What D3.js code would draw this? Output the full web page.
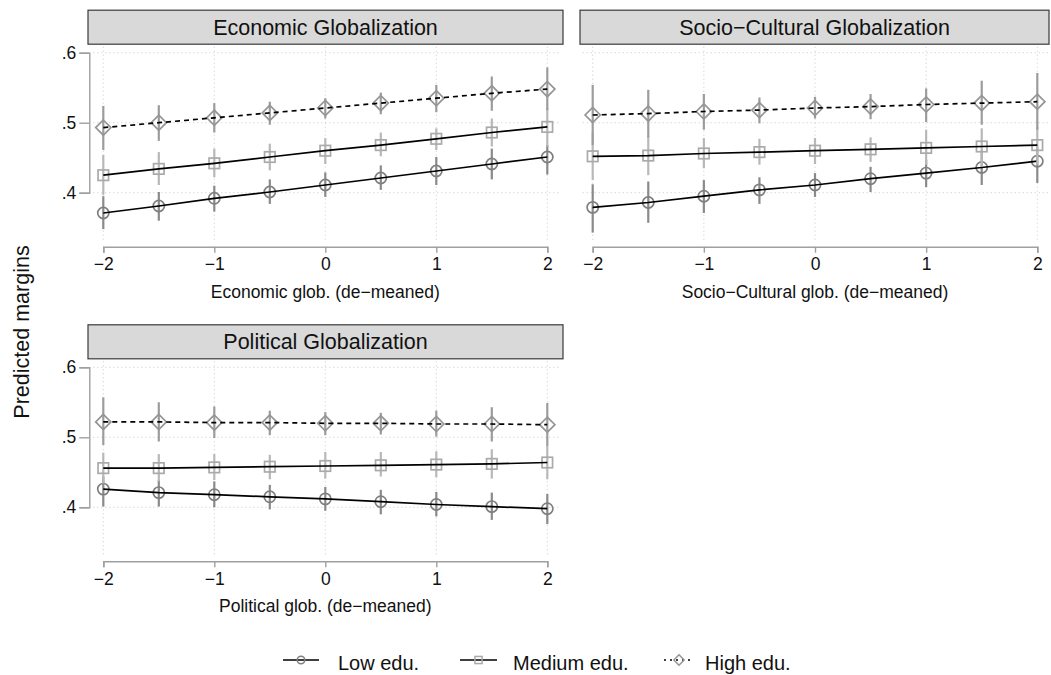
<!DOCTYPE html>
<html>
<head>
<meta charset="utf-8">
<script src="https://cdn.jsdelivr.net/npm/d3@7"></script>
<style>
  html, body { margin: 0; padding: 0; background: #fff; }
  svg { display: block; font-family: "Liberation Sans", Arial, Helvetica, sans-serif; }
</style>
</head>
<body>
<svg id="chart" width="1051" height="675"></svg>
<script>
// Evaluation points of the de-meaned globalization index
const xValues = [-2, -1.5, -1, -0.5, 0, 0.5, 1, 1.5, 2];
const xTicks = [-2, -1, 0, 1, 2];
const yTicks = [0.4, 0.5, 0.6];

const eduLevels = ["Low edu.", "Medium edu.", "High edu."];
const panelTitles = ["Economic Globalization", "Socio\u2212Cultural Globalization", "Political Globalization"];
const xTitles = ["Economic glob. (de\u2212meaned)", "Socio\u2212Cultural glob. (de\u2212meaned)", "Political glob. (de\u2212meaned)"];

// Economic globalization: margins and 95% CI bounds
const econLow    = [0.371, 0.381, 0.392, 0.401, 0.411, 0.421, 0.431, 0.441, 0.451];
const econLowLo  = [0.348, 0.360, 0.373, 0.384, 0.394, 0.404, 0.411, 0.419, 0.426];
const econLowHi  = [0.395, 0.401, 0.410, 0.419, 0.429, 0.439, 0.451, 0.463, 0.468];
const econMed    = [0.425, 0.434, 0.442, 0.451, 0.460, 0.468, 0.477, 0.486, 0.494];
const econMedLo  = [0.397, 0.411, 0.422, 0.432, 0.441, 0.452, 0.461, 0.466, 0.466];
const econMedHi  = [0.454, 0.458, 0.463, 0.470, 0.478, 0.486, 0.492, 0.506, 0.521];
const econHigh   = [0.493, 0.500, 0.507, 0.514, 0.521, 0.528, 0.535, 0.542, 0.548];
const econHighLo = [0.461, 0.474, 0.486, 0.497, 0.506, 0.512, 0.515, 0.517, 0.518];
const econHighHi = [0.524, 0.525, 0.528, 0.530, 0.535, 0.543, 0.554, 0.566, 0.579];

// Socio-cultural globalization
const socLow    = [0.379, 0.386, 0.395, 0.404, 0.411, 0.420, 0.428, 0.436, 0.445];
const socLowLo  = [0.343, 0.357, 0.371, 0.384, 0.394, 0.401, 0.408, 0.411, 0.414];
const socLowHi  = [0.412, 0.416, 0.418, 0.422, 0.428, 0.437, 0.447, 0.461, 0.466];
const socMed    = [0.452, 0.453, 0.456, 0.458, 0.460, 0.462, 0.464, 0.466, 0.468];
const socMedLo  = [0.418, 0.425, 0.435, 0.440, 0.441, 0.444, 0.440, 0.437, 0.440];
const socMedHi  = [0.486, 0.481, 0.478, 0.477, 0.478, 0.479, 0.490, 0.492, 0.494];
const socHigh   = [0.511, 0.513, 0.516, 0.518, 0.521, 0.523, 0.526, 0.528, 0.530];
const socHighLo = [0.468, 0.479, 0.490, 0.499, 0.506, 0.505, 0.501, 0.497, 0.490];
const socHighHi = [0.554, 0.547, 0.541, 0.536, 0.537, 0.541, 0.549, 0.560, 0.571];

// Political globalization
const polLow    = [0.426, 0.421, 0.418, 0.415, 0.412, 0.408, 0.404, 0.401, 0.398];
const polLowLo  = [0.401, 0.401, 0.400, 0.397, 0.395, 0.390, 0.387, 0.382, 0.376];
const polLowHi  = [0.444, 0.439, 0.437, 0.432, 0.429, 0.425, 0.422, 0.421, 0.419];
const polMed    = [0.456, 0.456, 0.457, 0.458, 0.459, 0.460, 0.461, 0.462, 0.464];
const polMedLo  = [0.434, 0.437, 0.439, 0.440, 0.441, 0.444, 0.443, 0.441, 0.440];
const polMedHi  = [0.478, 0.476, 0.476, 0.475, 0.479, 0.479, 0.480, 0.483, 0.487];
const polHigh   = [0.522, 0.522, 0.521, 0.521, 0.520, 0.520, 0.519, 0.519, 0.518];
const polHighLo = [0.489, 0.494, 0.499, 0.503, 0.503, 0.504, 0.501, 0.494, 0.487];
const polHighHi = [0.557, 0.550, 0.544, 0.538, 0.536, 0.535, 0.538, 0.543, 0.549];

const panelSeries = [
  [[econLow, econLowLo, econLowHi], [econMed, econMedLo, econMedHi], [econHigh, econHighLo, econHighHi]],
  [[socLow, socLowLo, socLowHi], [socMed, socMedLo, socMedHi], [socHigh, socHighLo, socHighHi]],
  [[polLow, polLowLo, polLowHi], [polMed, polMedLo, polMedHi], [polHigh, polHighLo, polHighHi]]
];

// Panel geometry
const panels = [
  { x: [103.3, 547.3], yTop: 52.7, box: [88, 563], showY: true },
  { x: [592.7, 1037.3], yTop: 52.7, box: [580, 1049], showY: false },
  { x: [103.3, 547.3], yTop: 367.3, box: [88, 563], showY: true }
];

// Series styles: marker, marker/CI colour, dash
const styles = [
  { marker: "circle",  stroke: "#7f7f7f", ci: "#8a8a8a", dash: null },
  { marker: "square",  stroke: "#aaaaaa", ci: "#b8b8b8", dash: null },
  { marker: "diamond", stroke: "#959595", ci: "#9c9c9c", dash: "5,4" }
];

const svg = d3.select("#chart");

function drawMarker(g, type, cx, cy, color, scale = 1, width = 1.7) {
  if (type === "circle") {
    g.append("circle").attr("cx", cx).attr("cy", cy).attr("r", 5.6 * scale)
      .attr("fill", "none").attr("stroke", color).attr("stroke-width", width);
  } else if (type === "square") {
    const s = 10.5 * scale;
    g.append("rect").attr("x", cx - s / 2).attr("y", cy - s / 2).attr("width", s).attr("height", s)
      .attr("fill", "none").attr("stroke", color).attr("stroke-width", width);
  } else {
    const d = 7.6 * scale;
    g.append("path").attr("d", `M${cx},${cy - d}L${cx + d},${cy}L${cx},${cy + d}L${cx - d},${cy}Z`)
      .attr("fill", "none").attr("stroke", color).attr("stroke-width", width);
  }
}

panels.forEach((p, pi) => {
  const x = d3.scaleLinear().domain([-2, 2]).range(p.x);
  const y = d3.scaleLinear().domain([0.4, 0.6]).range([p.yTop + 140, p.yTop]);
  const g = svg.append("g");

  // Strip title
  g.append("rect").attr("x", p.box[0]).attr("y", p.yTop - 42.5)
    .attr("width", p.box[1] - p.box[0]).attr("height", 34)
    .attr("fill", "#d9d9d9").attr("stroke", "#3a3a3a").attr("stroke-width", 1.2);
  g.append("text").attr("x", (p.box[0] + p.box[1]) / 2).attr("y", p.yTop - 18)
    .attr("text-anchor", "middle").attr("font-size", 21.5).attr("fill", "#111")
    .text(panelTitles[pi]);

  // Dotted grid
  const grid = g.append("g").attr("stroke", "#c8c8c8").attr("stroke-width", 1)
    .attr("stroke-dasharray", "1,3");
  yTicks.forEach(t => {
    grid.append("line").attr("x1", p.x[0] - 10).attr("x2", p.x[1] + 13)
      .attr("y1", y(t)).attr("y2", y(t));
  });
  xTicks.forEach(t => {
    grid.append("line").attr("x1", x(t)).attr("x2", x(t))
      .attr("y1", p.yTop - 6).attr("y2", p.yTop + 190);
  });

  // X axis
  const xAxisY = p.yTop + 194;
  const xAxis = d3.axisBottom(x).tickValues(xTicks).tickSize(6).tickPadding(5)
    .tickFormat(d => d < 0 ? "\u2212" + Math.abs(d) : String(d));
  const xg = g.append("g").attr("transform", `translate(0,${xAxisY})`).call(xAxis);
  xg.select(".domain").attr("stroke", "#a0a0a0").attr("stroke-width", 1.6);
  xg.selectAll(".tick line").attr("stroke", "#a0a0a0").attr("stroke-width", 1.4);
  xg.selectAll(".tick text").attr("font-size", 17.5).attr("fill", "#111")
    .attr("font-family", "Liberation Sans, Arial, sans-serif");
  g.append("text").attr("x", (p.x[0] + p.x[1]) / 2).attr("y", xAxisY + 51)
    .attr("text-anchor", "middle").attr("font-size", 17.5).attr("fill", "#111")
    .text(xTitles[pi]);

  // Y axis
  if (p.showY) {
    const yAxis = d3.axisLeft(y).tickValues(yTicks).tickSize(10).tickPadding(3)
      .tickFormat(d => d3.format(".1f")(d).replace(/^0/, ""));
    const yg = g.append("g").attr("transform", `translate(${p.x[0] - 14},0)`).call(yAxis);
    yg.select(".domain").attr("stroke", "#a0a0a0").attr("stroke-width", 1.4);
    yg.selectAll(".tick line").attr("stroke", "#a0a0a0").attr("stroke-width", 1.4);
    yg.selectAll(".tick text").attr("font-size", 17.5).attr("fill", "#111")
      .attr("font-family", "Liberation Sans, Arial, sans-serif");
  }

  // Confidence intervals, markers, connecting lines
  panelSeries[pi].forEach((s, si) => {
    const [mid, lo, hi] = s;
    const st = styles[si];
    const sg = g.append("g");
    xValues.forEach((xv, i) => {
      sg.append("line").attr("x1", x(xv)).attr("x2", x(xv))
        .attr("y1", y(lo[i])).attr("y2", y(hi[i]))
        .attr("stroke", st.ci).attr("stroke-width", 2.2);
    });
    xValues.forEach((xv, i) => drawMarker(sg, st.marker, x(xv), y(mid[i]), st.stroke));
    const line = d3.line().x((d, i) => x(xValues[i])).y(d => y(d));
    sg.append("path").datum(mid).attr("d", line).attr("fill", "none")
      .attr("stroke", "#000").attr("stroke-width", 1.7)
      .attr("stroke-dasharray", st.dash);
  });
});

// Shared y-axis title
svg.append("text").attr("transform", "translate(29,332) rotate(-90)")
  .attr("text-anchor", "middle").attr("font-size", 21.5).attr("fill", "#111")
  .text("Predicted margins");

// Legend
const legendY = 660;
const legendItems = [
  { x0: 283, x1: 319, textX: 338 },
  { x0: 460, x1: 497, textX: 513 },
  { x0: 664, x1: 694, textX: 705 }
];
legendItems.forEach((it, i) => {
  const st = styles[i];
  const lg = svg.append("g");
  lg.append("line").attr("x1", it.x0).attr("x2", it.x1).attr("y1", legendY).attr("y2", legendY)
    .attr("stroke", "#000").attr("stroke-width", 1.6)
    .attr("stroke-dasharray", i === 2 ? "2,4" : null);
  drawMarker(lg, st.marker, (it.x0 + it.x1) / 2, legendY, st.stroke, 0.68, 1.5);
  lg.append("text").attr("x", it.textX).attr("y", legendY + 10)
    .attr("font-size", 20).attr("fill", "#111").text(eduLevels[i]);
});
</script>
</body>
</html>
